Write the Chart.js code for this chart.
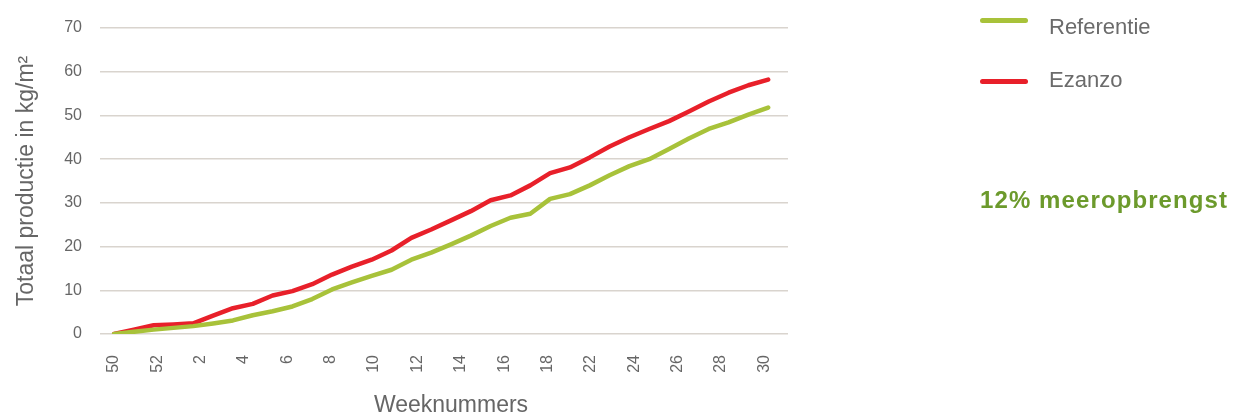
<!DOCTYPE html>
<html>
<head>
<meta charset="utf-8">
<script src="https://cdn.jsdelivr.net/npm/chart.js@4.4.1/dist/chart.umd.min.js"></script>
<style>
  body { margin: 0; background: #fff; }
  #wrap { position: relative; width: 1236px; height: 417px; }
  #legend { position: absolute; left: 980px; top: 0; margin: 0; padding: 0; list-style: none;
            font: 22px "Liberation Sans", Arial, sans-serif; color: #6b6b6b; }
  #legend li { position: absolute; left: 0; white-space: nowrap; line-height: 22px; height: 22px; }
  #legend li:nth-child(1) { top: 16px; }
  #legend li:nth-child(2) { top: 69px; }
  #legend li span { position: absolute; left: 0; width: 48px; height: 5px; border-radius: 3px; }
  #legend li:nth-child(1) span { top: 2px; }
  #legend li:nth-child(2) span { top: 10px; }
  #legend li em { font-style: normal; position: absolute; left: 69px; }
  #note { position: absolute; left: 980px; top: 186px; line-height: 24px; white-space: nowrap;
          font: bold 24px "Liberation Sans", Arial, sans-serif; letter-spacing: 1.1px; color: #6c9a2c; }
</style>
</head>
<body>
<div id="wrap">
  <canvas id="productie"></canvas>
  <ul id="legend"></ul>
  <div id="note">12% meeropbrengst</div>
</div>
<script>
// weeknummers van de meetpunten
const weeks = ['50', '51', '52', '53', '1', '2', '3', '4', '5', '6', '7', '8', '9', '10', '11', '12', '13',
               '14', '15', '16', '17', '18', '19', '20', '21', '22', '23', '24', '25', '26', '27', '28', '29', '30']

// labels zoals ze onder de as staan
const weekTicks = ['50', '52', '2', '4', '6', '8', '10', '12', '14', '16', '18', '22', '24', '26', '28', '30']

const referentie = [0, 0.5, 1.0, 1.4, 1.8, 2.4, 3.1, 4.3, 5.2, 6.3, 8.0, 10.2, 11.8, 13.3, 14.7, 17.0, 18.6,
                    20.5, 22.5, 24.7, 26.6, 27.5, 30.9, 32.0, 34.0, 36.3, 38.4, 40.0, 42.3, 44.7, 46.9, 48.4, 50.2, 51.8]

const ezanzo = [0, 1.0, 2.0, 2.2, 2.45, 4.2, 5.9, 6.9, 8.8, 9.8, 11.4, 13.6, 15.4, 17.0, 19.1, 22.0, 23.9,
                26.0, 28.1, 30.6, 31.7, 34.0, 36.8, 38.1, 40.4, 42.9, 45.0, 46.9, 48.7, 50.9, 53.2, 55.2, 56.9, 58.2]

const yTicks = [0, 10, 20, 30, 40, 50, 60, 70]

const green = '#a8c23a'
const red = '#e8202a'
const grey = '#666666'
const font = '"Liberation Sans", Arial, sans-serif'

const htmlLegend = {
    id: 'htmlLegend',
    afterUpdate(chart) {
        const ul = document.getElementById('legend')
        ul.innerHTML = ''
        chart.data.datasets.forEach(ds => {
            const li = document.createElement('li')
            const box = document.createElement('span')
            box.style.background = ds.borderColor
            const txt = document.createElement('em')
            txt.textContent = ds.label
            li.appendChild(box)
            li.appendChild(txt)
            ul.appendChild(li)
        })
    }
}

new Chart(document.getElementById('productie'), {
    type: 'line',
    data: {
        labels: [...weeks, ''],
        datasets: [
            { label: 'Referentie', data: referentie, borderColor: green, backgroundColor: green },
            { label: 'Ezanzo', data: ezanzo, borderColor: red, backgroundColor: red }
        ]
    },
    options: {
        responsive: true,
        maintainAspectRatio: false,
        animation: false,
        layout: { padding: { top: 28, right: 448, bottom: 0, left: 0 } },
        elements: {
            line: { borderWidth: 4.5, tension: 0, borderCapStyle: 'round', borderJoinStyle: 'round' },
            point: { radius: 0, hoverRadius: 0 }
        },
        plugins: {
            legend: { display: false },
            tooltip: { enabled: false }
        },
        scales: {
            x: {
                display: false
            },
            xw: {
                type: 'linear',
                position: 'bottom',
                min: 0,
                max: 15.55,
                afterBuildTicks: axis => { axis.ticks = weekTicks.map((t, i) => ({ value: i })) },
                afterFit: axis => { axis.height = 83 },
                grid: { display: false, drawTicks: false },
                border: { display: false },
                ticks: {
                    autoSkip: false,
                    minRotation: 90,
                    maxRotation: 90,
                    padding: 21,
                    color: grey,
                    font: { family: font, size: 16 },
                    callback: (v, i) => weekTicks[i]
                },
                title: {
                    display: true,
                    text: 'Weeknummers',
                    color: grey,
                    padding: 0,
                    font: { family: font, size: 23, lineHeight: 1 }
                }
            },
            y: {
                min: 0,
                max: 70,
                afterBuildTicks: axis => { axis.ticks = yTicks.map(v => ({ value: v })) },
                afterFit: axis => { axis.width = 114 },
                grid: { color: '#d9d4ce', lineWidth: 1.5, tickLength: 14, tickColor: '#d9d4ce' },
                border: { display: false },
                ticks: {
                    padding: 18,
                    color: grey,
                    font: { family: font, size: 16 }
                },
                title: {
                    display: true,
                    text: 'Totaal productie in kg/m²',
                    color: grey,
                    padding: { top: 15, bottom: 0 },
                    font: { family: font, size: 23, lineHeight: 1 }
                }
            }
        }
    },
    plugins: [htmlLegend]
})
</script>
</body>
</html>
